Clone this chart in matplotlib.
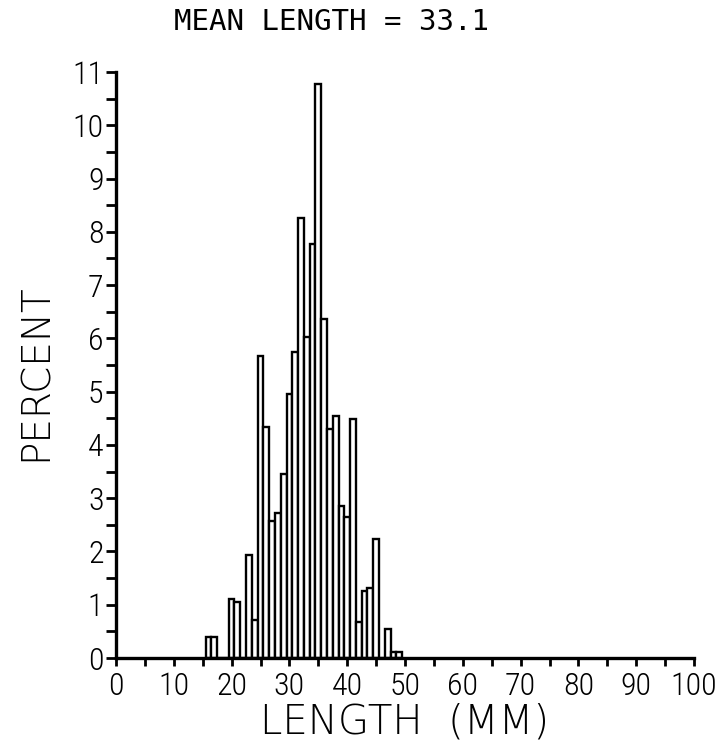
import numpy as np
import matplotlib
matplotlib.use('Agg')
import matplotlib.pyplot as plt
from matplotlib.ticker import MultipleLocator

# length class (mm) and percent of fish in it
lengths = [16, 17, 18, 19, 20, 21, 22, 23, 24, 25, 26, 27, 28, 29, 30,
           31, 32, 33, 34, 35, 36, 37, 38, 39, 40, 41, 42, 43, 44, 45,
           46, 47, 48, 49]
percents = [0.4, 0.4, 0.0, 0.0, 1.1, 1.05, 0.0, 1.93, 0.71, 5.66, 4.34, 2.58, 2.73, 3.45, 4.95,
            5.75, 8.26, 6.02, 7.78, 10.78, 6.36, 4.3, 4.55, 2.86, 2.64, 4.48, 0.67, 1.26, 1.32, 2.24,
            0.0, 0.54, 0.12, 0.12]
mean_length = 33.1

x_ticklabels = [str(v) for v in range(0, 101, 10)]
y_ticklabels = [str(v) for v in range(0, 12)]

plt.rcParams['font.family'] = ['Roboto Condensed', 'DejaVu Sans']
plt.rcParams['font.stretch'] = 'condensed'
plt.rcParams['font.weight'] = 'light'

W, H = 725, 748
fig = plt.figure(figsize=(W / 100, H / 100), dpi=100)
# axes box in pixels: x 116..694, y(0)=658, y(11)=72
ax = fig.add_axes([116 / W, (H - 658) / H, (694 - 116) / W, (658 - 72) / H])

ax.bar(lengths, percents, width=1.0, facecolor='white', edgecolor='black', linewidth=1.7)

ax.set_xlim(0, 100)
ax.set_ylim(0, 11)
ax.spines['top'].set_visible(False)
ax.spines['right'].set_visible(False)
ax.spines['left'].set_linewidth(2.4)
ax.spines['bottom'].set_linewidth(2.4)

ax.set_xticks(range(0, 101, 10))
ax.set_xticklabels(x_ticklabels)
ax.xaxis.set_minor_locator(MultipleLocator(5))
ax.set_yticks(range(0, 12))
ax.set_yticklabels(y_ticklabels)
ax.yaxis.set_minor_locator(MultipleLocator(0.5))

ax.tick_params(axis='both', which='both', direction='out', width=2.0, color='black')
ax.tick_params(axis='x', which='both', length=6, labelsize=23, pad=4)
ax.tick_params(axis='y', which='both', length=7, labelsize=23, pad=2)

fig.text(331 / W, 1 - 22 / H, 'MEAN LENGTH = {:.1f}'.format(mean_length),
         ha='center', va='center', fontsize=21, family=['DejaVu Sans Mono'],
         stretch='normal')
fig.text(405 / W, 1 - 722 / H, 'LENGTH  (MM)', ha='center', va='center', fontsize=29,
         family=['DejaVu Sans'], stretch='normal')
fig.text(36 / W, 1 - 372 / H, 'PERCENT', ha='center', va='center', rotation=90,
         fontsize=28, family=['DejaVu Sans'], stretch='normal')

fig.savefig('out.png', dpi=100, facecolor='white')
